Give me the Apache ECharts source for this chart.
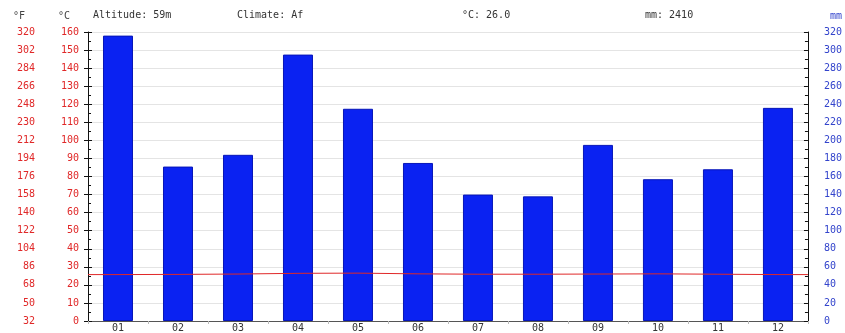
<!DOCTYPE html>
<html>
<head>
<meta charset="utf-8">
<script src="https://cdn.jsdelivr.net/npm/echarts@6/dist/echarts.min.js"></script>
<style>html,body{margin:0;padding:0;background:#fff}#c{width:845px;height:333px}</style>
</head>
<body>
<div id="c"></div>
<script>
const months = ["01","02","03","04","05","06","07","08","09","10","11","12"];
const precipitation = [316, 171, 184, 295, 235, 175, 140, 138, 195, 157, 168, 236];
const temperature = [25.7, 25.8, 26.0, 26.4, 26.5, 26.1, 25.9, 25.9, 26.0, 26.1, 25.9, 25.7];
const celsiusTicks = [0,10,20,30,40,50,60,70,80,90,100,110,120,130,140,150,160];
const fahrenheitTicks = [32,50,68,86,104,122,140,158,176,194,212,230,248,266,284,302,320];
const mmTicks = [0,20,40,60,80,100,120,140,160,180,200,220,240,260,280,300,320];
const headerTexts = ["Altitude: 59m", "Climate: Af", "°C: 26.0", "mm: 2410"];

const mono = "DejaVu Sans Mono";
const tempLine = [[0, temperature[0]]].concat(temperature.map((t, i) => [i + 0.5, t])).concat([[12, temperature[11]]]);

const chart = echarts.init(document.getElementById('c'), null, {renderer: 'canvas'});
chart.setOption({
  animation: false,
  backgroundColor: '#fff',
  grid: {left: 88, right: 30, top: 32, bottom: 10, containLabel: false},
  graphic: [
    {type: 'text', left: 93, top: 10, style: {text: headerTexts[0], font: '10px ' + mono, fill: '#333'}},
    {type: 'text', left: 237, top: 10, style: {text: headerTexts[1], font: '10px ' + mono, fill: '#333'}},
    {type: 'text', left: 462, top: 10, style: {text: headerTexts[2], font: '10px ' + mono, fill: '#333'}},
    {type: 'text', left: 645, top: 10, style: {text: headerTexts[3], font: '10px ' + mono, fill: '#333'}},
    {type: 'text', left: 13, top: 11, style: {text: '°F', font: '10px ' + mono, fill: '#444'}},
    {type: 'text', left: 58, top: 11, style: {text: '°C', font: '10px ' + mono, fill: '#444'}},
    {type: 'text', left: 830, top: 11, style: {text: 'mm', font: '10px ' + mono, fill: '#3344cc'}}
  ],
  xAxis: [
    {
      type: 'category', data: months, position: 'bottom',
      axisLine: {lineStyle: {color: '#555', width: 1}},
      axisTick: {show: true, alignWithLabel: false, length: 3, lineStyle: {color: '#bbb'}},
      axisLabel: {color: '#333', fontFamily: mono, fontSize: 10, margin: 2},
      splitLine: {show: false}
    },
    {
      type: 'value', min: 0, max: 12, show: false
    }
  ],
  yAxis: [
    {
      type: 'value', min: 0, max: 160, interval: 10, position: 'left',
      axisLine: {show: true, lineStyle: {color: '#111', width: 1}},
      axisTick: {show: true, length: 4, lineStyle: {color: '#111'}},
      axisLabel: {color: '#e02828', fontFamily: mono, fontSize: 10, margin: 9,
        formatter: (v) => String(celsiusTicks[Math.round(v / 10)])},
      splitLine: {show: true, lineStyle: {color: '#e4e4e4', width: 1}}
    },
    {
      type: 'value', min: 0, max: 160, interval: 10, position: 'left', offset: 0,
      axisLine: {show: false},
      axisTick: {show: true, inside: true, length: 4, lineStyle: {color: '#111'}},
      minorTick: {show: true, splitNumber: 2, length: 3, lineStyle: {color: '#111'}},
      axisLabel: {color: '#e02828', fontFamily: mono, fontSize: 10, margin: 53,
        formatter: (v) => String(fahrenheitTicks[Math.round(v / 10)])},
      splitLine: {show: false}
    },
    {
      type: 'value', min: 0, max: 320, interval: 20, position: 'right',
      axisLine: {show: true, lineStyle: {color: '#111', width: 1}},
      axisTick: {show: true, length: 4, inside: true, lineStyle: {color: '#111'}},
      minorTick: {show: true, splitNumber: 2, length: 3, lineStyle: {color: '#111'}},
      axisLabel: {color: '#3344cc', fontFamily: mono, fontSize: 10, margin: 16,
        formatter: (v) => String(mmTicks[Math.round(v / 20)])},
      splitLine: {show: false}
    }
  ],
  series: [
    {
      type: 'bar', name: 'mm', data: precipitation, xAxisIndex: 0, yAxisIndex: 2,
      barWidth: 30,
      itemStyle: {color: '#0a22f2', borderColor: '#0716b8', borderWidth: 1}
    },
    {
      type: 'line', name: '°C', data: tempLine, xAxisIndex: 1, yAxisIndex: 0,
      symbol: 'none', lineStyle: {color: '#e02828', width: 1}, z: 5
    }
  ]
});
</script>
</body>
</html>
